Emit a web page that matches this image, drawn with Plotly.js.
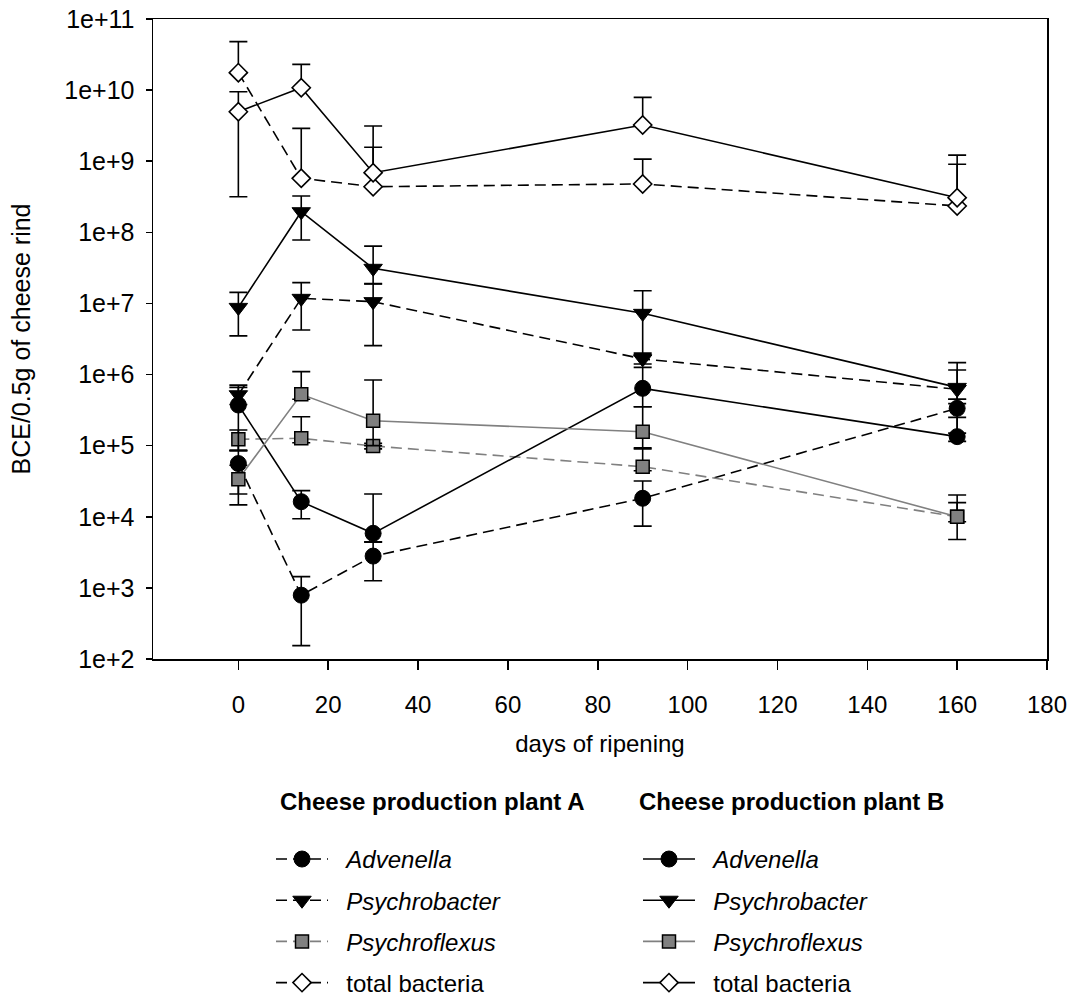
<!DOCTYPE html>
<html>
<head>
<meta charset="utf-8">
<script src="https://cdn.plot.ly/plotly-3.0.1.min.js"></script>
<style>html,body{margin:0;padding:0;background:#fff;}#chart{width:1074px;height:996px;}</style>
</head>
<body>
<div id="chart"></div>
<script>
// ---- data ----
const days = [0, 14, 30, 90, 160];

// Cheese production plant A (dashed)
const advA    = [5.6e4, 7.9e2, 2.8e3, 1.82e4, 3.35e5];
const advA_hi = [8.5e4, 1.44e3, 4.4e3, 3.18e4, 4.5e5];
const advA_lo = [2.09e4, 1.54e2, 1.26e3, 7.4e3, 1.5e5];

const psyA    = [5.2e5, 1.18e7, 1.06e7, 1.66e6, 6.2e5];
const psyA_hi = [7.1e5, 1.96e7, 1.88e7, 2.0e6, 1.16e6];
const psyA_lo = [3.8e5, 4.24e6, 2.55e6, 1.41e6, 3.9e5];

const psfA    = [1.23e5, 1.27e5, 9.9e4, 5.06e4, 1.0e4];
const psfA_hi = [1.66e5, 2.55e5, 1.08e5, 9.0e4, 1.58e4];
const psfA_lo = [8.7e4, 1.1e5, 9.0e4, 4.44e4, 8.5e3];

const totA    = [1.76e10, 5.75e8, 4.38e8, 4.79e8, 2.35e8];
const totA_hi = [4.8e10, 2.9e9, 1.57e9, 1.07e9, 9.06e8];
const totA_lo = [1.76e10, 5.75e8, 4.38e8, 4.79e8, 2.35e8];

// Cheese production plant B (solid)
const advB    = [3.73e5, 1.63e4, 5.85e3, 6.4e5, 1.34e5];
const advB_hi = [6.6e5, 2.33e4, 2.09e4, 1.26e6, 2.5e5];
const advB_lo = [8.5e4, 9.4e3, 4.46e3, 3.53e5, 1.15e5];

const psyB    = [8.8e6, 1.95e8, 3.12e7, 7.26e6, 6.6e5];
const psyB_hi = [1.43e7, 3.24e8, 6.4e7, 1.51e7, 1.47e6];
const psyB_lo = [3.5e6, 7.8e7, 1.9e7, 1.9e6, 4.5e5];

const psfB    = [3.37e4, 5.27e5, 2.24e5, 1.57e5, 1.0e4];
const psfB_hi = [5.3e4, 1.1e6, 8.4e5, 3.53e5, 2.02e4];
const psfB_lo = [1.47e4, 4.5e5, 1.0e5, 9.36e4, 4.8e3];

const totB    = [4.97e9, 1.08e10, 6.9e8, 3.23e9, 3.07e8];
const totB_hi = [9.5e9, 2.3e10, 3.13e9, 7.9e9, 1.22e9];
const totB_lo = [3.17e8, 1.08e10, 6.9e8, 3.23e9, 3.07e8];

const xTicks = [0, 20, 40, 60, 80, 100, 120, 140, 160, 180];
const yExponents = [2, 3, 4, 5, 6, 7, 8, 9, 10, 11];

const names = ['<i>Advenella</i>', '<i>Psychrobacter</i>', '<i>Psychroflexus</i>', 'total bacteria'];
const groupA = 'Cheese production plant A';
const groupB = 'Cheese production plant B';

// ---- styles ----
const BLACK = '#000000';
const GREY = '#808080';
const pad = '\u00a0\u00a0';

function mk(name, y, hi, lo, opts) {
  return {
    x: days, y: y, type: 'scatter', mode: 'lines+markers',
    name: pad + name,
    legend: opts.legend,
    legendgroup: opts.legend + name,
    line: {color: opts.lineColor, width: 1.6, dash: opts.dash},
    marker: opts.marker,
    error_y: {
      type: 'data', symmetric: false,
      array: hi.map((h, i) => h - y[i]),
      arrayminus: lo.map((l, i) => y[i] - l),
      color: BLACK, thickness: 1.6, width: 9
    },
    cliponaxis: false
  };
}

const dashA = '11px,6px';
const mCircle = {symbol: 'circle', size: 16, color: BLACK, line: {color: BLACK, width: 1}};
const mTri = {symbol: 'triangle-down', size: 16, color: BLACK, line: {color: BLACK, width: 1}};
const mSq = {symbol: 'square', size: 13, color: GREY, line: {color: BLACK, width: 1.5}};
const mDia = {symbol: 'diamond', size: 14, color: '#ffffff', line: {color: BLACK, width: 1.6}};

const traces = [
  mk(names[0], advA, advA_hi, advA_lo, {legend: 'legend', lineColor: BLACK, dash: dashA, marker: mCircle}),
  mk(names[1], psyA, psyA_hi, psyA_lo, {legend: 'legend', lineColor: BLACK, dash: dashA, marker: mTri}),
  mk(names[2], psfA, psfA_hi, psfA_lo, {legend: 'legend', lineColor: GREY, dash: dashA, marker: mSq}),
  mk(names[3], totA, totA_hi, totA_lo, {legend: 'legend', lineColor: BLACK, dash: dashA, marker: mDia}),
  mk(names[0], advB, advB_hi, advB_lo, {legend: 'legend2', lineColor: BLACK, dash: 'solid', marker: mCircle}),
  mk(names[1], psyB, psyB_hi, psyB_lo, {legend: 'legend2', lineColor: BLACK, dash: 'solid', marker: mTri}),
  mk(names[2], psfB, psfB_hi, psfB_lo, {legend: 'legend2', lineColor: GREY, dash: 'solid', marker: mSq}),
  mk(names[3], totB, totB_hi, totB_lo, {legend: 'legend2', lineColor: BLACK, dash: 'solid', marker: mDia})
];

const FONT = 'Liberation Sans, Arial, sans-serif';
const legendCommon = {
  yanchor: 'top', xanchor: 'left', y: -0.278,
  font: {family: FONT, size: 24, color: BLACK},
  itemwidth: 52, tracegroupgap: 7, traceorder: 'grouped',
  bgcolor: 'rgba(0,0,0,0)', borderwidth: 0
};

const layout = {
  width: 1074, height: 996,
  margin: {l: 153, r: 27, t: 19, b: 337, autoexpand: false},
  paper_bgcolor: '#ffffff', plot_bgcolor: '#ffffff',
  font: {family: FONT, size: 24, color: BLACK},
  showlegend: true,
  xaxis: {
    range: [-19, 180], tickvals: xTicks, ticktext: xTicks.map(String),
    ticks: 'outside', ticklen: 9, tickwidth: 1.5, tickcolor: BLACK,
    ticklabelstandoff: 15, automargin: false,
    showline: true, linecolor: BLACK, linewidth: 1.5, mirror: true,
    showgrid: false, zeroline: false,
    tickfont: {family: FONT, size: 24, color: BLACK},
    title: {text: 'days of ripening', font: {family: FONT, size: 24, color: BLACK}, standoff: 18}
  },
  yaxis: {
    type: 'log', range: [2, 11],
    tickvals: yExponents.map(e => Math.pow(10, e)),
    ticktext: yExponents.map(e => '1e+' + e),
    ticks: 'outside', ticklen: 6, tickwidth: 1.5, tickcolor: BLACK,
    ticklabelstandoff: 6, automargin: false,
    showline: true, linecolor: BLACK, linewidth: 1.5, mirror: true,
    showgrid: false, zeroline: false,
    tickfont: {family: FONT, size: 25, color: BLACK},
    title: {text: 'BCE/0.5g of cheese rind', font: {family: FONT, size: 25, color: BLACK}, standoff: 26}
  },
  legend: Object.assign({}, legendCommon, {x: 0.132}),
  legend2: Object.assign({}, legendCommon, {x: 0.5425}),
  annotations: [
    {text: '<b>' + groupA + '</b>', xref: 'paper', yref: 'paper', x: 0.1398, y: -0.2234,
     xanchor: 'left', yanchor: 'middle', showarrow: false, font: {family: FONT, size: 24, color: BLACK}},
    {text: '<b>' + groupB + '</b>', xref: 'paper', yref: 'paper', x: 0.5414, y: -0.2234,
     xanchor: 'left', yanchor: 'middle', showarrow: false, font: {family: FONT, size: 24, color: BLACK}}
  ]
};

Plotly.newPlot('chart', traces, layout, {displayModeBar: false, staticPlot: true});
</script>
</body>
</html>
